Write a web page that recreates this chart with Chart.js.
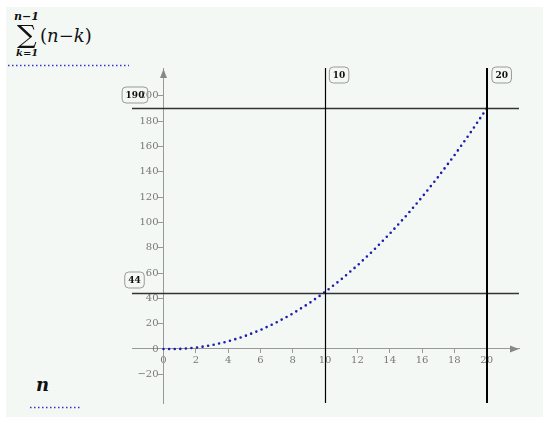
<!DOCTYPE html>
<html>
<head>
<meta charset="utf-8">
<script src="https://cdn.jsdelivr.net/npm/chart.js@4/dist/chart.umd.min.js"></script>
<style>
  body { margin: 0; background: #fff; }
  #wrap { position: relative; width: 550px; height: 425px; }
  #panel { position: absolute; left: 6px; top: 7px; width: 537px; height: 410px; background: #f4f8f5; }
  canvas { position: absolute; left: 0; top: 0; }
  .m { position: absolute; font-family: "DejaVu Serif", serif; color: #111; white-space: nowrap; line-height: 1; }
  .i { font-style: italic; }
  .b { font-weight: bold; }
</style>
</head>
<body>
<div id="wrap">
  <div id="panel"></div>
  <div class="m i b" style="left:14px; top:11px; font-size:11px;">n−1</div>
  <div class="m i b" style="left:16px; top:48px; font-size:10px;">k=1</div>
  <div class="m" style="left:40px; top:27px; font-size:18px;">(<span class="i">n</span>−<span class="i">k</span>)</div>
  <div class="m i b" style="left:36px; top:376px; font-size:18px;">n</div>
  <canvas id="c" width="550" height="425"></canvas>
</div>
<script>
// n and sum_{k=1}^{n-1} (n-k)
const nValues = [0, 1, 2, 3, 4, 5, 6, 7, 8, 9, 10, 11, 12, 13, 14, 15, 16, 17, 18, 19, 20];
const sumValues = [0, 0, 1, 3, 6, 10, 15, 21, 28, 36, 45, 55, 66, 78, 91, 105, 120, 136, 153, 171, 190];
const xTicks = [0, 2, 4, 6, 8, 10, 12, 14, 16, 18, 20];
const yTicks = [-20, 0, 20, 40, 60, 80, 100, 120, 140, 160, 180, 200];
const markerX = [10, 20];
const markerY = [190, 44];

const serif = "DejaVu Serif";

const markers = {
  id: 'markers',
  afterDraw(chart) {
    const ctx = chart.ctx;
    const a = chart.chartArea;
    const xs = chart.scales.x, ys = chart.scales.y;
    ctx.save();

    // horizontal markers
    ctx.strokeStyle = '#333';
    ctx.lineWidth = 1.3;
    markerY.forEach(v => {
      const py = Math.round(ys.getPixelForValue(v)) + 0.5;
      ctx.beginPath(); ctx.moveTo(a.left, py); ctx.lineTo(a.right, py); ctx.stroke();
    });
    // vertical markers
    markerX.forEach((v, i) => {
      ctx.strokeStyle = '#000';
      ctx.lineWidth = i == 1 ? 2 : 1.2;
      const px = Math.round(xs.getPixelForValue(v)) + (i == 1 ? 0 : 0.5);
      ctx.beginPath(); ctx.moveTo(px, a.top); ctx.lineTo(px, a.bottom); ctx.stroke();
    });

    // axis arrows
    ctx.fillStyle = '#888';
    const x0 = xs.getPixelForValue(0), y0 = ys.getPixelForValue(0);
    ctx.beginPath();
    ctx.moveTo(x0, a.top + 1); ctx.lineTo(x0 - 3.5, a.top + 10); ctx.lineTo(x0 + 3.5, a.top + 10);
    ctx.fill();
    ctx.beginPath();
    ctx.moveTo(a.right, y0); ctx.lineTo(a.right - 9, y0 - 3.5); ctx.lineTo(a.right - 9, y0 + 3.5);
    ctx.fill();

    // value boxes
    function box(text, cx, cy) {
      ctx.font = 'bold 9px "' + serif + '"';
      const w = ctx.measureText(text).width + 7, h = 16;
      ctx.beginPath();
      ctx.roundRect(cx - w / 2, cy - h / 2, w, h, 4);
      ctx.strokeStyle = '#999';
      ctx.lineWidth = 1;
      ctx.stroke();
      ctx.fillStyle = '#111';
      ctx.textAlign = 'center';
      ctx.textBaseline = 'middle';
      ctx.fillText(text, cx, cy + 0.5);
    }
    box(String(markerY[0]), 135, 95);
    box(String(markerY[1]), 134.5, 280);
    box(String(markerX[0]), xs.getPixelForValue(markerX[0]) + 14, 75);
    box(String(markerX[1]), xs.getPixelForValue(markerX[1]) + 15, 75);

    // summation sign, stretched into its box
    ctx.font = '40px "' + serif + '"';
    ctx.textAlign = 'left';
    ctx.textBaseline = 'alphabetic';
    const m = ctx.measureText('∑');
    const gw = m.actualBoundingBoxLeft + m.actualBoundingBoxRight;
    const gh = m.actualBoundingBoxAscent + m.actualBoundingBoxDescent;
    const sx = 20 / gw, sy = 23 / gh;
    ctx.save();
    ctx.translate(17 + m.actualBoundingBoxLeft * sx, 25 + m.actualBoundingBoxAscent * sy);
    ctx.scale(sx, sy);
    ctx.fillStyle = '#111';
    ctx.fillText('∑', 0, 0);
    ctx.restore();

    // legend traces
    ctx.strokeStyle = '#3333bb';
    ctx.lineWidth = 1.6;
    ctx.setLineDash([1.5, 2.5]);
    ctx.beginPath(); ctx.moveTo(8, 65.5); ctx.lineTo(129, 65.5); ctx.stroke();
    ctx.beginPath(); ctx.moveTo(30, 407.5); ctx.lineTo(82, 407.5); ctx.stroke();
    ctx.restore();
  }
};

new Chart(document.getElementById('c'), {
  type: 'line',
  data: {
    datasets: [{
      data: nValues.map((n, i) => ({ x: n, y: sumValues[i] })),
      borderColor: '#1c1cae',
      borderWidth: 2.6,
      borderDash: [0, 5.6],
      borderCapStyle: 'round',
      pointRadius: 0,
      fill: false,
      tension: 0
    }]
  },
  options: {
    responsive: false,
    animation: false,
    layout: { padding: { left: 132, right: 31, top: 68, bottom: 22 } },
    plugins: { legend: { display: false }, tooltip: { enabled: false } },
    scales: {
      x: {
        type: 'linear',
        position: { y: 0 },
        min: -1.95,
        max: 22,
        afterBuildTicks: s => { s.ticks = xTicks.map(v => ({ value: v })); },
        ticks: { color: '#777', font: { family: serif, size: 10 }, padding: 1, maxRotation: 0, autoSkip: false },
        grid: { drawOnChartArea: false, tickLength: 4, color: '#999' },
        border: { color: '#999', width: 1 }
      },
      y: {
        type: 'linear',
        position: { x: 0 },
        min: -42.7,
        max: 222,
        afterBuildTicks: s => { s.ticks = yTicks.map(v => ({ value: v })); },
        // labels sit right-aligned on the axis line, so pad them off it
        ticks: {
          color: '#777', font: { family: serif, size: 10 }, autoSkip: false,
          callback: v => (v < 0 ? '\u2212' + Math.abs(v) : String(v)) + '\u2002'
        },
        grid: { drawOnChartArea: false, tickLength: 5, color: '#999' },
        border: { color: '#999', width: 1 }
      }
    }
  },
  plugins: [markers]
});
</script>
</body>
</html>
